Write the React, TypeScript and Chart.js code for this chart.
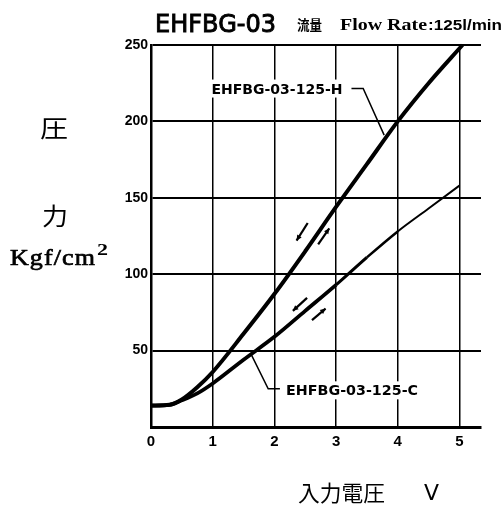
import React, { useEffect, useRef } from 'react';
import { Chart, registerables } from 'chart.js';

Chart.register(...registerables);

// Input voltage (V) and pressure (Kgf/cm2) for each curve
const VOLTAGE_H = [0, 0.3, 0.5, 0.75, 1, 1.5, 2, 2.5, 3, 3.5, 4, 4.5, 5.05];
const PRESSURE_H = [14, 14.5, 18, 26, 36, 61, 87, 115, 144, 172, 200, 225, 250];
const VOLTAGE_C = [0, 0.3, 0.5, 0.75, 1, 1.5, 2, 2.5, 3, 3.5, 4, 4.5, 5.0];
const PRESSURE_C = [14, 14.5, 17.5, 22, 28.5, 44, 59, 76, 93, 111, 128, 143, 158];

const X_TICKS = [0, 1, 2, 3, 4, 5];
const Y_TICKS = [50, 100, 150, 200, 250];
const X_MAX = 5.35;
const Y_MAX = 250;

const SERIES_H = 'EHFBG-03-125-H';
const SERIES_C = 'EHFBG-03-125-C';
const TITLE = 'EHFBG-03';
const FLOW_CJK = '流量';
const FLOW_EN = 'Flow Rate';
const FLOW_VALUE = ':125l/min';
const Y_TITLE_1 = '圧';
const Y_TITLE_2 = '力';
const Y_UNIT = 'Kgf/cm';
const X_TITLE = '入力電圧';
const X_UNIT = 'V';

// Annotation anchors in data units (voltage, pressure)
const LABEL_H_AT = [0.98, 221.5];
const LEADER_H = [[3.25, 221.5], [3.44, 221.5], [3.78, 191]];
const LABEL_C_AT = [2.19, 24];
const LEADER_C = [[2.09, 25], [1.9, 25], [1.63, 47]];
const ARROWS = [
  [[2.54, 133.5], [2.36, 122]],
  [[2.71, 119.5], [2.89, 130]],
  [[2.53, 84.5], [2.3, 76]],
  [[2.61, 70], [2.83, 77.5]],
];

const toPoints = (xs: number[], ys: number[]) => xs.map((x, i) => ({ x, y: ys[i] }));

const overlay = {
  id: 'overlay',
  afterDatasetsDraw(chart: any) {
    const { ctx, scales } = chart;
    const xs = scales.x;
    const ys = scales.y;
    const px = (v: number) => xs.getPixelForValue(v);
    const py = (v: number) => ys.getPixelForValue(v);
    ctx.save();
    ctx.fillStyle = '#000';
    ctx.strokeStyle = '#000';

    const fit = (text: string, left: number, baseline: number, width: number, font: string, stroke = 0, spacing = '0px') => {
      ctx.font = font;
      (ctx as any).letterSpacing = spacing;
      const w = ctx.measureText(text).width;
      ctx.save();
      ctx.translate(left, baseline);
      ctx.scale(width / w, 1);
      ctx.textAlign = 'left';
      ctx.textBaseline = 'alphabetic';
      ctx.fillText(text, 0, 0);
      if (stroke > 0) {
        ctx.lineWidth = stroke;
        ctx.strokeText(text, 0, 0);
      }
      ctx.restore();
      (ctx as any).letterSpacing = '0px';
    };

    const poly = (pts: number[][], lw: number) => {
      ctx.beginPath();
      ctx.lineWidth = lw;
      pts.forEach((p, i) => {
        const X = px(p[0]);
        const Y = py(p[1]);
        if (i === 0) ctx.moveTo(X, Y);
        else ctx.lineTo(X, Y);
      });
      ctx.stroke();
    };

    // series labels with white background
    const labelFont = 'bold 14px "DejaVu Sans", sans-serif';
    const hx = px(LABEL_H_AT[0]);
    const hy = py(LABEL_H_AT[1]);
    ctx.fillStyle = '#fff';
    ctx.fillRect(hx - 2, hy - 9, 135, 18);
    ctx.fillStyle = '#000';
    fit(SERIES_H, hx, hy + 5, 131, labelFont);
    poly(LEADER_H, 1.5);

    const cx = px(LABEL_C_AT[0]);
    const cy = py(LABEL_C_AT[1]);
    ctx.fillStyle = '#fff';
    ctx.fillRect(cx - 2, cy - 9, 137, 18);
    ctx.fillStyle = '#000';
    fit(SERIES_C, cx, cy + 5, 132, labelFont);
    poly(LEADER_C, 1.5);

    // arrows
    ARROWS.forEach(([a, b]) => {
      const x1 = px(a[0]), y1 = py(a[1]), x2 = px(b[0]), y2 = py(b[1]);
      ctx.beginPath();
      ctx.lineWidth = 2.2;
      ctx.moveTo(x1, y1);
      ctx.lineTo(x2, y2);
      ctx.stroke();
      const ang = Math.atan2(y2 - y1, x2 - x1);
      const hl = 6;
      ctx.beginPath();
      ctx.moveTo(x2, y2);
      ctx.lineTo(x2 - hl * Math.cos(ang - 0.45), y2 - hl * Math.sin(ang - 0.45));
      ctx.lineTo(x2 - hl * Math.cos(ang + 0.45), y2 - hl * Math.sin(ang + 0.45));
      ctx.closePath();
      ctx.fill();
    });

    // titles
    fit(TITLE, 155, 32, 121, '24px "DejaVu Sans", sans-serif', 0.9);
    fit(FLOW_CJK, 297, 30, 25, 'bold 14px "Noto Sans CJK JP", sans-serif');
    fit(FLOW_EN, 340, 30, 87, 'bold 16px "Liberation Serif", serif');
    fit(FLOW_VALUE, 428, 30, 74, 'bold 14px "Liberation Sans", sans-serif');

    // y axis title
    fit(Y_TITLE_1, 40, 137, 28, '24px "Noto Sans CJK JP", sans-serif');
    fit(Y_TITLE_2, 42, 225, 26, '24px "Noto Sans CJK JP", sans-serif');
    fit(Y_UNIT, 10, 265, 86, '23px "Liberation Serif", serif', 0.7, '1px');
    fit('2', 97, 255, 11, 'bold 16px "Liberation Serif", serif');

    // x axis title
    fit(X_TITLE, 298, 501, 87, '22px "Noto Sans CJK JP", sans-serif');
    fit(X_UNIT, 424, 500, 15, '22px "DejaVu Sans", sans-serif');

    ctx.restore();
  },
};

export default function App() {
  const ref = useRef<HTMLCanvasElement | null>(null);

  useEffect(() => {
    if (!ref.current) return;
    const chart = new Chart(ref.current, {
      type: 'scatter',
      data: {
        datasets: [
          {
            label: SERIES_H,
            data: toPoints(VOLTAGE_H, PRESSURE_H),
            showLine: true,
            borderColor: '#000',
            borderWidth: 4,
            pointRadius: 0,
            cubicInterpolationMode: 'monotone',
            clip: 6,
          },
          {
            label: SERIES_C,
            data: toPoints(VOLTAGE_C, PRESSURE_C),
            showLine: true,
            borderColor: '#000',
            borderWidth: 3.5,
            pointRadius: 0,
            cubicInterpolationMode: 'monotone',
            clip: 6,
            segment: {
              borderWidth: (c: any) => {
                const v = c.p0.parsed.x;
                return v >= 4 ? 2 : v >= 3.5 ? 2.6 : v >= 3 ? 3.1 : 3.8;
              },
            },
          },
        ],
      } as any,
      plugins: [overlay],
      options: {
        animation: false,
        responsive: false,
        devicePixelRatio: 1,
        layout: { padding: { left: 0, right: 21, top: 45, bottom: 49 } },
        plugins: { legend: { display: false }, tooltip: { enabled: false }, title: { display: false } },
        scales: {
          x: {
            type: 'linear',
            min: 0,
            max: X_MAX,
            afterBuildTicks: (s: any) => {
              s.ticks = X_TICKS.map((v) => ({ value: v }));
            },
            afterFit: (s: any) => {
              s.height = 30;
            },
            grid: { color: '#000', lineWidth: 1.5, drawTicks: false },
            border: { color: '#000', width: 3 },
            ticks: {
              color: '#000',
              padding: 6,
              font: { family: '"Liberation Sans", sans-serif', size: 15, weight: 'bold' },
            },
          },
          y: {
            type: 'linear',
            min: 0,
            max: Y_MAX,
            afterBuildTicks: (s: any) => {
              s.ticks = Y_TICKS.map((v) => ({ value: v }));
            },
            afterFit: (s: any) => {
              s.width = 151;
            },
            grid: { color: '#000', lineWidth: 2, drawTicks: false },
            border: { color: '#000', width: 2.5 },
            ticks: {
              color: '#000',
              padding: 3,
              font: { family: '"Liberation Sans Narrow", "Liberation Sans", sans-serif', size: 14, weight: 'bold' },
            },
          },
        },
      } as any,
    });
    return () => chart.destroy();
  }, []);

  return (
    <div style={{ position: 'fixed', left: 0, top: 0, width: 502, height: 506, background: '#fff' }}>
      <canvas ref={ref} width={502} height={506} style={{ width: 502, height: 506 }} />
    </div>
  );
}
